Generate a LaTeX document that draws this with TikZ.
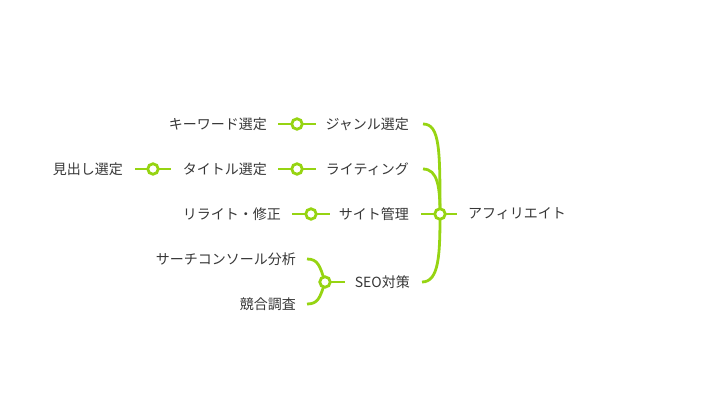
\documentclass[tikz,border=0pt]{standalone}
\usepackage{fontspec}
\newfontfamily\jp{Noto Sans CJK JP}
\definecolor{lime}{RGB}{150,212,18}
\definecolor{txt}{RGB}{55,55,55}
\pgfdeclarelayer{bg}
\pgfsetlayers{bg,main}
\begin{document}
\begin{tikzpicture}[x=1pt,y=-1pt,
  lbl/.style={font=\jp\fontsize{14}{16}\selectfont, text=txt, inner sep=0pt},
  knot/.style={circle, draw=lime, line width=2.8pt, fill=white, minimum size=10.5pt, inner sep=0pt},
  link/.style={draw=lime, line width=2.8pt}]
\useasboundingbox (0,0) rectangle (702,415);
% texts
\node[lbl, anchor=west] (root) at (468,214) {アフィリエイト};
\node[lbl, anchor=east] (genre) at (409,124) {ジャンル選定};
\node[lbl, anchor=east] (writing) at (409,169) {ライティング};
\node[lbl, anchor=east] (site) at (409,214) {サイト管理};
\node[lbl, anchor=east] (seo) at (410,282) {SEO対策};
\node[lbl, anchor=east] (kw) at (267,124) {キーワード選定};
\node[lbl, anchor=east] (title) at (267,169) {タイトル選定};
\node[lbl, anchor=east] (midashi) at (123,169) {見出し選定};
\node[lbl, anchor=east] (rewrite) at (281,214) {リライト・修正};
\node[lbl, anchor=east] (search) at (296,259) {サーチコンソール分析};
\node[lbl, anchor=east] (kyogo) at (296,304) {競合調査};
% knots
\node[knot] (rc) at (440,214) {};
\node[knot] (gc) at (297,124) {};
\node[knot] (wc) at (297,169) {};
\node[knot] (sc) at (311,214) {};
\node[knot] (ec) at (325,282) {};
\node[knot] (tc) at (153,169) {};
\begin{pgfonlayer}{bg}
  % root
  \path[link] ([xshift=12]site.east) -- ([xshift=-11]root.west);
  \path[link] (rc.center) .. controls (440,150) and (440,124) .. ([xshift=14]genre.east);
  \path[link] (rc.center) .. controls (440,188) and (438,169) .. ([xshift=14]writing.east);
  \path[link] (rc.center) .. controls (440,255) and (439,282) .. ([xshift=12]seo.east);
  % children stubs
  \path[link] ([xshift=11]kw.east) -- (gc.center);
  \path[link] (gc.center) -- ([xshift=19]gc.center);
  \path[link] ([xshift=11]title.east) -- (wc.center);
  \path[link] (wc.center) -- ([xshift=19]wc.center);
  \path[link] ([xshift=12]midashi.east) -- (tc.center);
  \path[link] (tc.center) -- ([xshift=-12]title.west);
  \path[link] ([xshift=11]rewrite.east) -- (sc.center);
  \path[link] (sc.center) -- ([xshift=19]sc.center);
  \path[link] (ec.center) -- ([xshift=-10]seo.west);
  \path[link] (ec.center) .. controls (320,266) and (318,259) .. ([xshift=11]search.east);
  \path[link] (ec.center) .. controls (320,298) and (318,304) .. ([xshift=11]kyogo.east);
\end{pgfonlayer}
\end{tikzpicture}
\end{document}
